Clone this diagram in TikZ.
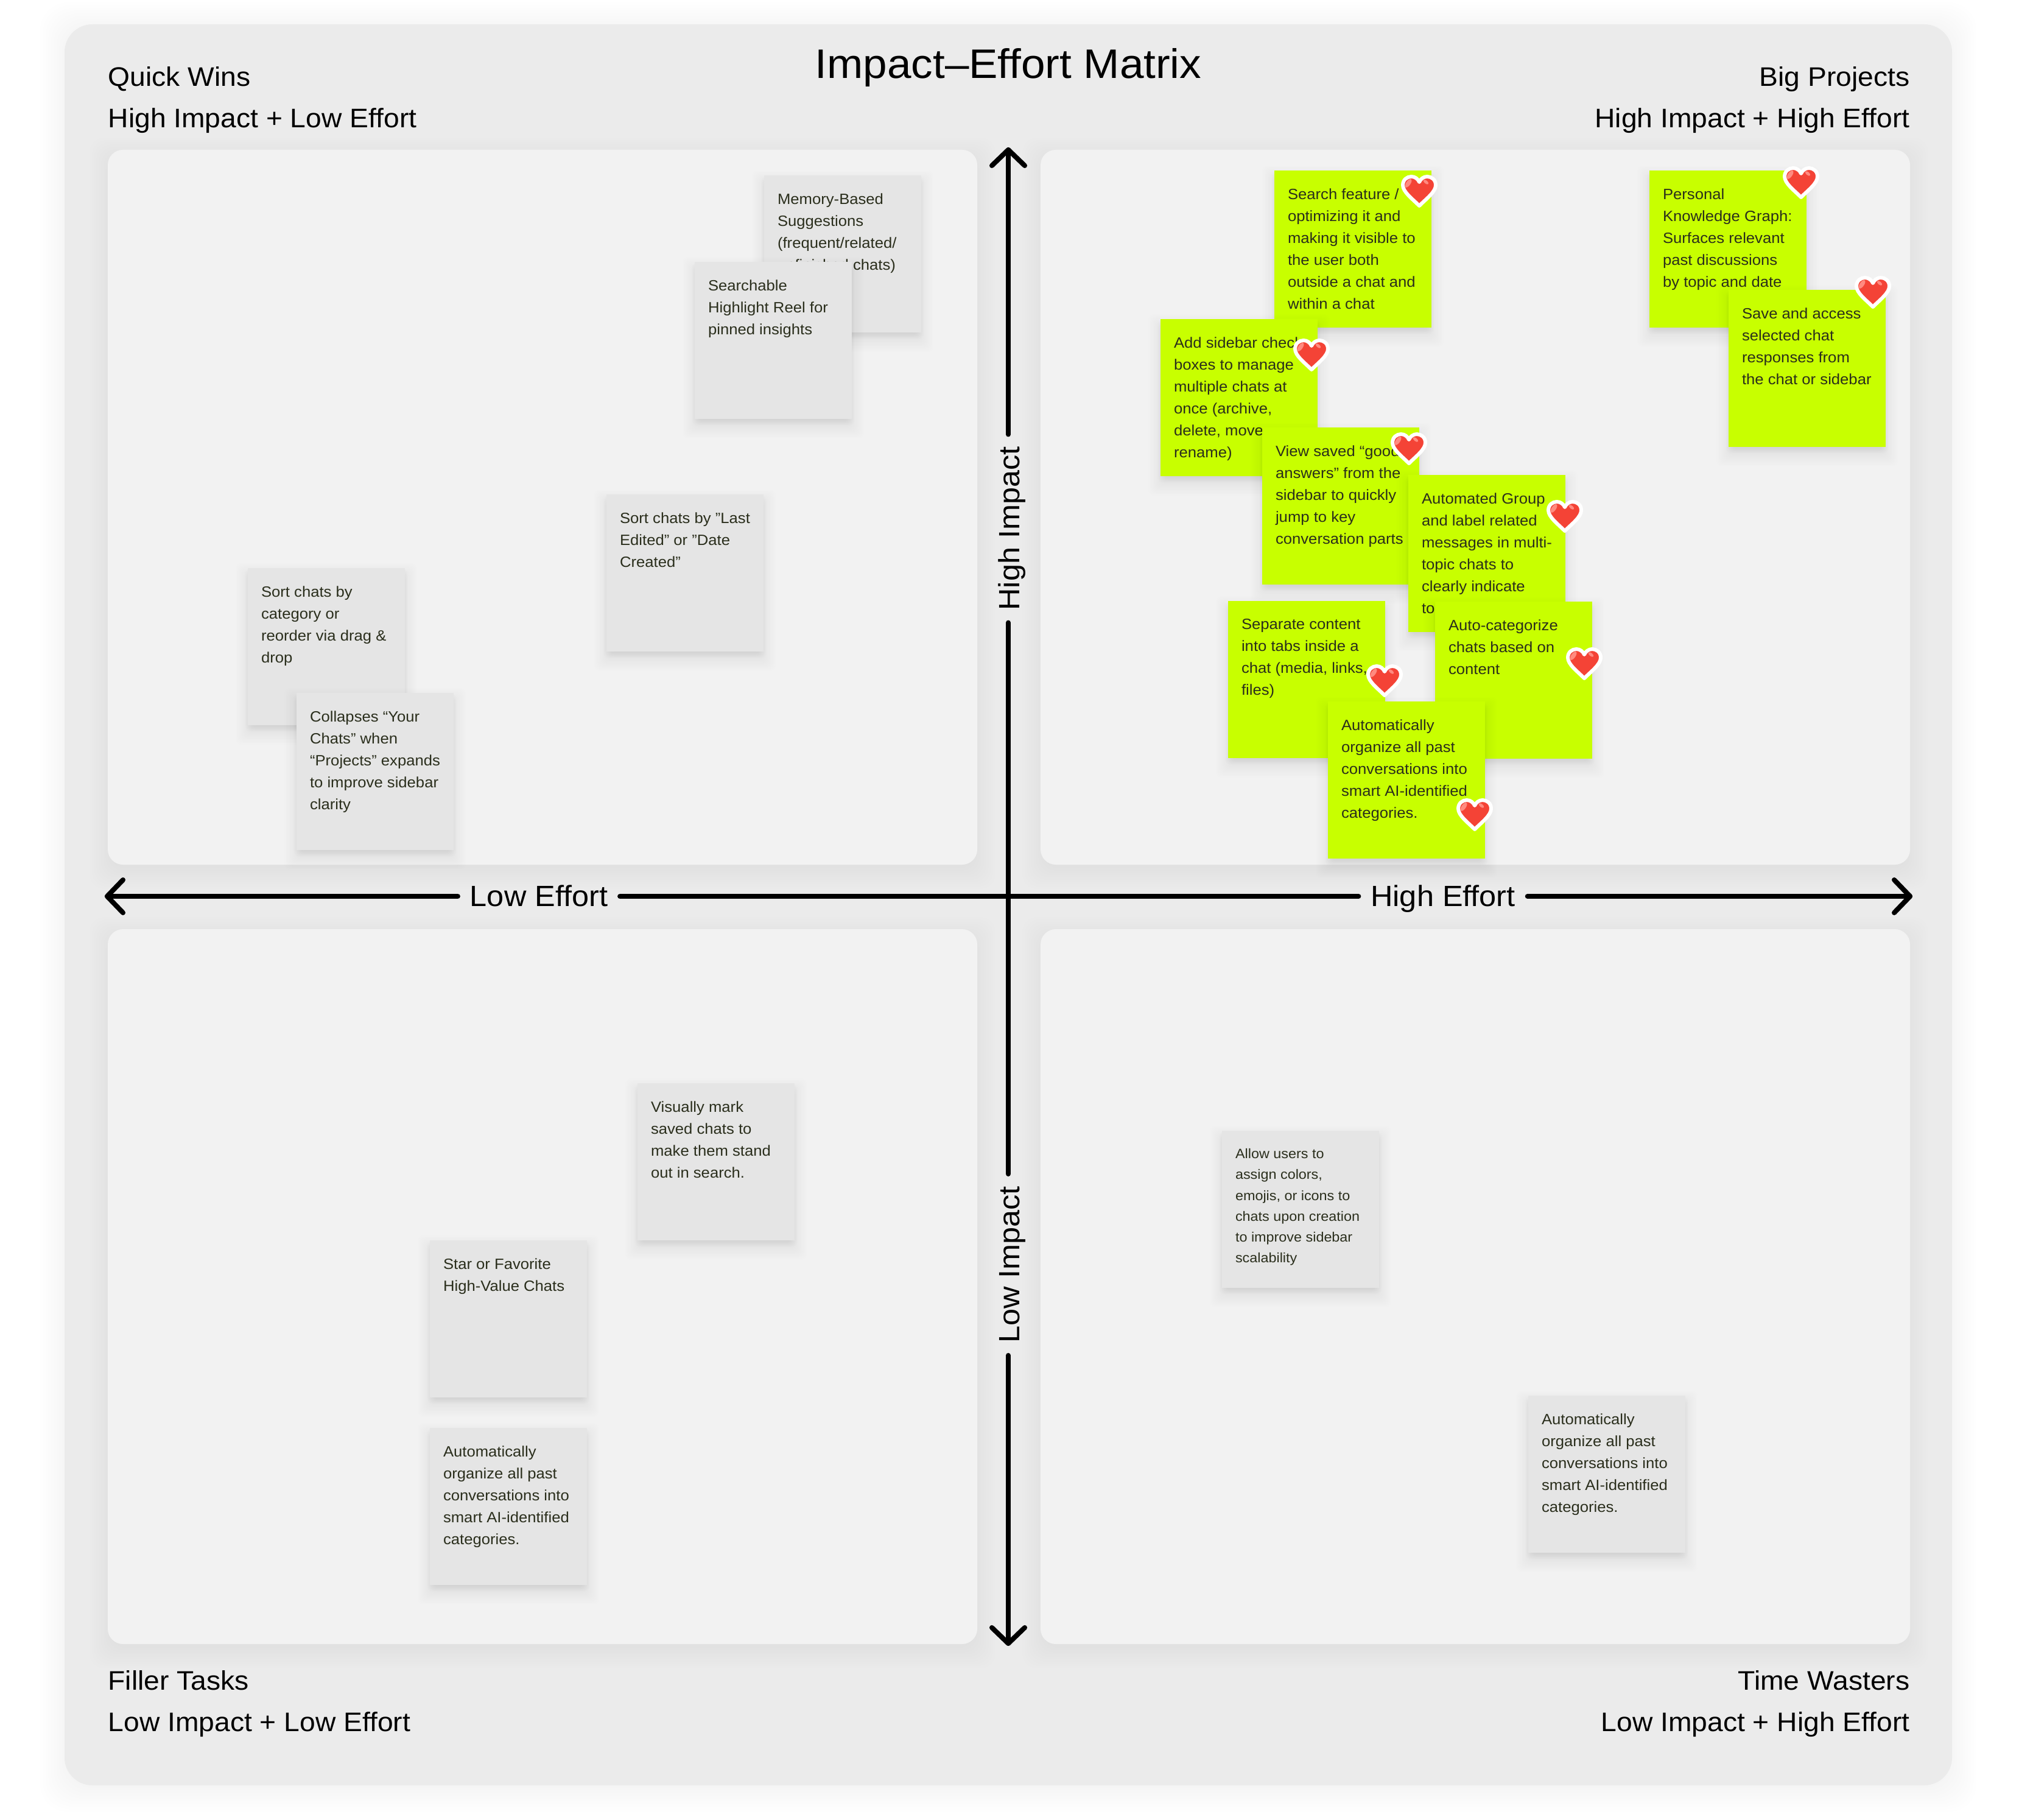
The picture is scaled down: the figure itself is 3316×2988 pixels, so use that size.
\documentclass[tikz,border=0pt]{standalone}
\usepackage{fontspec}
\setmainfont{Liberation Sans}[FakeStretch=1.05]
\usetikzlibrary{calc}
\definecolor{pagebg}{HTML}{EBEBEB}
\definecolor{quad}{HTML}{F2F2F2}
\definecolor{greynote}{HTML}{E5E5E5}
\definecolor{limenote}{HTML}{C8FF00}
\definecolor{notetext}{HTML}{2A2E1C}
\definecolor{heartred}{HTML}{F44336}
\definecolor{heartpink}{HTML}{FF8A80}
\newcommand\softshadow[7]{% x1 y1 x2 y2 spread dy opacity
  \foreach \k in {0,...,15}{
    \pgfmathsetmacro\e{#5*(1-\k/15)-6}
    \fill[black,opacity=#7,rounded corners=2.5pt] ({#1-\e},{#2+#6-\e}) rectangle ({#3+\e},{#4+#6+\e});
  }}
\newcommand\stickynote[6][\smallfont]{% font name x y style text
  \softshadow{#3}{#4}{#3+258}{#4+258}{26}{12}{0.0028}
  \softshadow{#3}{#4}{#3+258}{#4+258}{11}{6}{0.005}
  \node[notebox,#5] (#2) at (#3,#4) {\parbox[c][73.4pt][t]{73.4pt}{\raggedright\leftskip=6.26pt\relax #1\color{notetext}\vspace*{\notetop}#6}};
}
\newlength\notetop
\setlength\notetop{8.4pt}
\newcommand\smallfont{\fontsize{6.95pt}{10.24pt}\selectfont}
\newcommand\tinyfont{\fontsize{6.33pt}{9.73pt}\selectfont}
\newcommand\hearticon[2]{%
  \begin{scope}[shift={(#1,#2)}]
    \path[fill=heartred,draw=white,line width=1.7pt,line join=round]
      (0,24) .. controls (-12,12) and (-27,1) .. (-27,-10)
      .. controls (-27,-19) and (-20,-24) .. (-13,-24)
      .. controls (-7,-24) and (-2,-20) .. (0,-15)
      .. controls (2,-20) and (7,-24) .. (13,-24)
      .. controls (20,-24) and (27,-19) .. (27,-10)
      .. controls (27,1) and (12,12) .. (0,24) -- cycle;
    \fill[heartpink,rotate around={55:(-18,-13)}] (-18,-13) ellipse (8 and 3.6);
    \fill[heartpink,rotate around={-40:(11,-15)}] (11,-15) ellipse (5 and 2.6);
  \end{scope}}
\tikzset{
  notebox/.style={anchor=north west,inner sep=0pt,outer sep=0pt,minimum width=73.4pt,minimum height=73.4pt},
  greybox/.style={fill=greynote},
  limebox/.style={fill=limenote},
  quadrant/.style={fill=quad,rounded corners=7.1pt},
  axisline/.style={line width=2.3pt,black,line cap=round,line join=round},
  headtext/.style={font=\fontsize{12.52pt}{15pt}\selectfont,inner sep=0pt,text=black},
  axistext/.style={font=\fontsize{13.66pt}{16pt}\selectfont,inner xsep=5.5pt,inner ysep=0pt,text=black,text height=1.17em,text depth=.25em},
}
\begin{document}
\begin{tikzpicture}[x=0.01cm,y=-0.01cm]
\path[use as bounding box,fill=white] (0,0) rectangle (3316,2988);
% outer panel
\foreach \k in {0,...,9}{
  \pgfmathsetmacro\e{40*(1-\k/9)}
  \fill[black,opacity=0.0035,rounded corners=13pt] ({106-\e},{40+4-\e}) rectangle ({3206+\e},{2932+4+\e});
}
\fill[pagebg,rounded corners=13pt] (106,40) rectangle (3206,2932);
% quadrants
\foreach \xa/\ya/\xb/\yb in {177/246/1605/1420,1709/246/3137/1420,177/1526/1605/2700,1709/1526/3137/2700}{
  \foreach \k in {0,...,9}{
    \pgfmathsetmacro\e{34*(1-\k/9)-4}
    \fill[black,opacity=0.0045,rounded corners=7pt] ({\xa-\e},{\ya+10-\e}) rectangle ({\xb+\e},{\yb+10+\e});
  }
  \fill[quadrant] (\xa,\ya) rectangle (\xb,\yb);
}
% headers
\node[font=\fontsize{19.25pt}{23pt}\selectfont,inner sep=0pt] (title) at (1656,111) {Impact–Effort Matrix};
\node[headtext,anchor=base west] (qw1) at (177,142) {Quick Wins};
\node[headtext,anchor=base west] (qw2) at (177,210) {High Impact + Low Effort};
\node[headtext,anchor=base east] (bp1) at (3137,142) {Big Projects};
\node[headtext,anchor=base east] (bp2) at (3137,210) {High Impact + High Effort};
\node[headtext,anchor=base west] (ft1) at (177,2775) {Filler Tasks};
\node[headtext,anchor=base west] (ft2) at (177,2843) {Low Impact + Low Effort};
\node[headtext,anchor=base east] (tw1) at (3137,2775) {Time Wasters};
\node[headtext,anchor=base east] (tw2) at (3137,2843) {Low Impact + High Effort};
% axes
\coordinate (vT) at (1656,246);
\coordinate (vB) at (1656,2699);
\coordinate (hL) at (176,1472);
\coordinate (hR) at (3137,1472);
\node[axistext,rotate=90] (hiI) at (1658,868) {High Impact};
\node[axistext,rotate=90] (loI) at (1658,2077) {Low Impact};
\node[axistext] (loE) at (885,1472) {Low Effort};
\node[axistext] (hiE) at (2370,1472) {High Effort};
\draw[axisline] (vT) -- (vT|-hiI.east);
\draw[axisline] (vT|-hiI.west) -- (vT|-loI.east);
\draw[axisline] (vT|-loI.west) -- (vB);
\draw[axisline] (hL) -- (loE.west);
\draw[axisline] (loE.east) -- (hiE.west);
\draw[axisline] (hiE.east) -- (hR);
\draw[axisline] ($(vT)+(-27,26)$) -- (vT) -- ($(vT)+(27,26)$);
\draw[axisline] ($(vB)+(-27,-26)$) -- (vB) -- ($(vB)+(27,-26)$);
\draw[axisline] ($(hL)+(26,-27)$) -- (hL) -- ($(hL)+(26,27)$);
\draw[axisline] ($(hR)+(-26,-27)$) -- (hR) -- ($(hR)+(-26,27)$);
% grey notes
\stickynote{mem}{1255}{288}{greybox}{Memory-Based\\Suggestions\\(frequent/related/\\unfinished chats)}
\stickynote{reel}{1141}{430}{greybox}{Searchable\\Highlight Reel for\\pinned insights}
\stickynote{last}{996}{812}{greybox}{Sort chats by "Last\\Edited" or "Date\\Created"}
\stickynote{cat}{407}{933}{greybox}{Sort chats by\\category or\\reorder via drag \&\\drop}
\stickynote{coll}{487}{1138}{greybox}{Collapses “Your\\Chats” when\\“Projects” expands\\to improve sidebar\\clarity}
\stickynote{mark}{1047}{1779}{greybox}{Visually mark\\saved chats to\\make them stand\\out in search.}
\stickynote{star}{706}{2037}{greybox}{Star or Favorite\\High-Value Chats}
\stickynote{orgl}{706}{2345}{greybox}{Automatically\\organize all past\\conversations into\\smart AI-identified\\categories.}
\stickynote[\tinyfont]{allow}{2007}{1857}{greybox}{Allow users to\\assign colors,\\emojis, or icons to\\chats upon creation\\to improve sidebar\\scalability}
\stickynote{orgr}{2510}{2292}{greybox}{Automatically\\organize all past\\conversations into\\smart AI-identified\\categories.}
% lime notes
\stickynote{srch}{2093}{280}{limebox}{Search feature /\\optimizing it and\\making it visible to\\the user both\\outside a chat and\\within a chat}
\stickynote{side}{1906}{524}{limebox}{Add sidebar check\\boxes to manage\\multiple chats at\\once (archive,\\delete, move,\\rename)}
\stickynote{view}{2073}{702}{limebox}{View saved “good\\answers” from the\\sidebar to quickly\\jump to key\\conversation parts}
\stickynote{grp}{2313}{780}{limebox}{Automated Group\\and label related\\messages in multi-\\topic chats to\\clearly indicate\\to}
\stickynote{tabs}{2017}{987}{limebox}{Separate content\\into tabs inside a\\chat (media, links,\\files)}
\stickynote{auto}{2357}{988}{limebox}{Auto-categorize\\chats based on\\content}
\stickynote{orgg}{2181}{1152}{limebox}{Automatically\\organize all past\\conversations into\\smart AI-identified\\categories.}
\stickynote{kg}{2709}{280}{limebox}{Personal\\Knowledge Graph:\\Surfaces relevant\\past discussions\\by topic and date}
\stickynote{save}{2839}{476}{limebox}{Save and access\\selected chat\\responses from\\the chat or sidebar}
% hearts
\hearticon{2331}{314}
\hearticon{2154}{583}
\hearticon{2314}{737}
\hearticon{2570}{848}
\hearticon{2274}{1118}
\hearticon{2602}{1090}
\hearticon{2422}{1338}
\hearticon{2958}{300}
\hearticon{3076}{480}
\end{tikzpicture}
\end{document}
